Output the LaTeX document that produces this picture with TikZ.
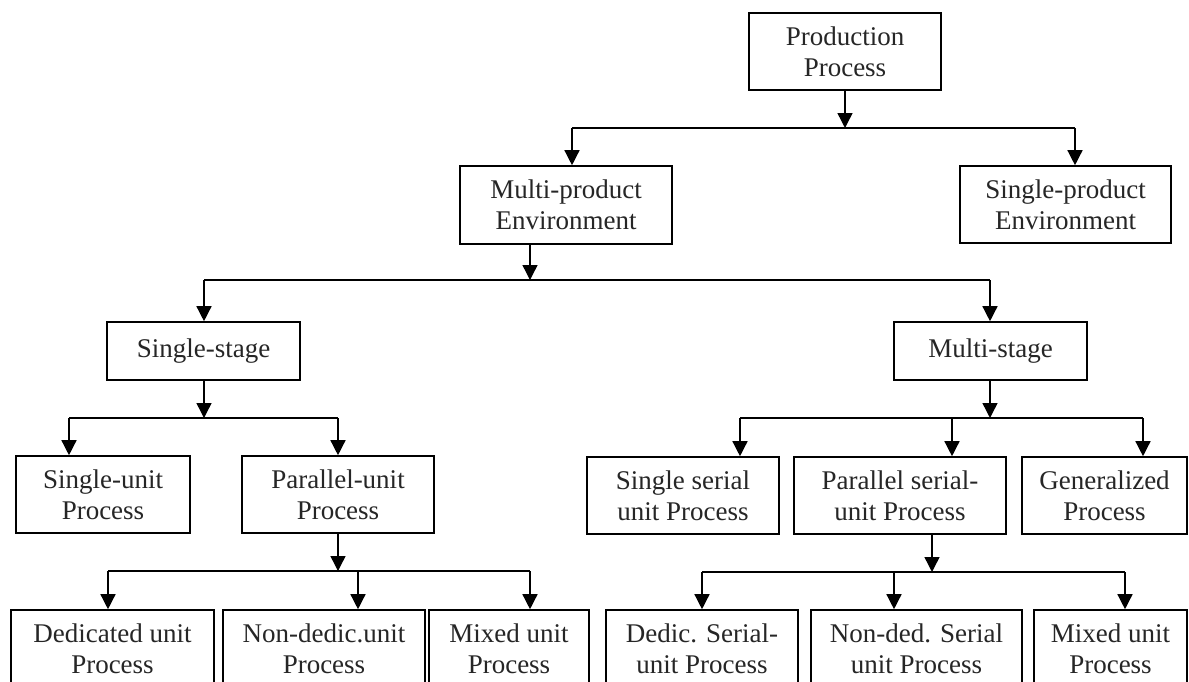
\documentclass[tikz,border=0pt]{standalone}
\usepackage{fontspec}
\setmainfont{Liberation Serif}
\usetikzlibrary{arrows.meta}
\begin{document}
\begin{tikzpicture}[x=1pt,y=-1pt,
  box/.style={draw, line width=1.6pt, inner sep=0pt, align=center,
    font=\fontsize{27}{31}\selectfont, text=black!85},
  link/.style={line width=1.4pt},
  arr/.style={link, -{Triangle[length=15pt,width=15pt]}}]
\clip (0,0) rectangle (1189,681);
\fill[white] (0,0) rectangle (1189,681);

% level 0 and 1
\node[box, minimum width=192pt, minimum height=77pt] (prod)   at (845,51.5)   {Production\\Process};
\node[box, minimum width=212pt, minimum height=78pt] (multi)  at (566,205)    {Multi-product\\Environment};
\node[box, minimum width=211pt, minimum height=77pt] (single) at (1065.5,204.5) {Single-product\\Environment};

% level 2
\node[box, minimum width=193pt, minimum height=58pt] (sstage) at (203.5,351) {Single-stage};
\node[box, minimum width=193pt, minimum height=58pt] (mstage) at (990.5,351) {Multi-stage};

% level 3
\node[box, minimum width=174pt, minimum height=77pt] (sunit) at (103,494.5)  {Single-unit\\Process};
\node[box, minimum width=192pt, minimum height=77pt] (punit) at (338,494.5)  {Parallel-unit\\Process};
\node[box, minimum width=192pt, minimum height=77pt] (sser)  at (683,495.5)  {Single serial\\unit Process};
\node[box, minimum width=212pt, minimum height=77pt] (pser)  at (900,495.5)  {Parallel serial-\\unit Process};
\node[box, minimum width=165pt, minimum height=77pt] (gen)   at (1104.5,495.5) {Generalized\\Process};

% level 4
\node[box, minimum width=203pt, minimum height=78pt] (ded)  at (112.5,649) {Dedicated unit\\Process};
\node[box, minimum width=202pt, minimum height=78pt] (ndd)  at (324,649)   {Non-dedic.unit\\Process};
\node[box, minimum width=160pt, minimum height=78pt] (mixa) at (509,649)   {Mixed unit\\Process};
\node[box, minimum width=192pt, minimum height=78pt] (dser) at (702,649)   {Dedic. Serial-\\unit Process};
\node[box, minimum width=211pt, minimum height=78pt] (nser) at (916.5,649) {Non-ded. Serial\\unit Process};
\node[box, minimum width=153pt, minimum height=78pt] (mixb) at (1110.5,649) {Mixed unit\\Process};

% branch points
\coordinate (b1l) at (572,128);  \coordinate (b1r) at (1075,128);
\coordinate (b2l) at (204,280);  \coordinate (b2m) at (530,280);  \coordinate (b2r) at (990,280);
\coordinate (b3l) at (69,418);   \coordinate (b3m) at (204,418);  \coordinate (b3r) at (338,418);
\coordinate (b3p) at (740,418);  \coordinate (b3q) at (952,418);  \coordinate (b3c) at (990,418);
\coordinate (b3s) at (1143,418);
\coordinate (b4l) at (108,571);  \coordinate (b4m) at (358,571);  \coordinate (b4r) at (530,571);
\coordinate (b4p) at (702,572);  \coordinate (b4q) at (894,572);  \coordinate (b4c) at (932,572);
\coordinate (b4s) at (1125,572);

% Production Process
\draw[arr] (prod.south) -- (prod.south |- b1l);
\draw[link] (b1l) -- (b1r);
\draw[arr] (b1l) -- (b1l |- multi.north);
\draw[arr] (b1r) -- (b1r |- single.north);

% Multi-product Environment
\draw[arr] (b2m |- multi.south) -- (b2m);
\draw[link] (b2l) -- (b2r);
\draw[arr] (b2l) -- (b2l |- sstage.north);
\draw[arr] (b2r) -- (b2r |- mstage.north);

% Single-stage
\draw[arr] (b3m |- sstage.south) -- (b3m);
\draw[link] (b3l) -- (b3r);
\draw[arr] (b3l) -- (b3l |- sunit.north);
\draw[arr] (b3r) -- (b3r |- punit.north);

% Multi-stage
\draw[arr] (b3c |- mstage.south) -- (b3c);
\draw[link] (b3p) -- (b3s);
\draw[arr] (b3p) -- (b3p |- sser.north);
\draw[arr] (b3q) -- (b3q |- pser.north);
\draw[arr] (b3s) -- (b3s |- gen.north);

% Parallel-unit Process
\draw[arr] (punit.south) -- (punit.south |- b4l);
\draw[link] (b4l) -- (b4r);
\draw[arr] (b4l) -- (b4l |- ded.north);
\draw[arr] (b4m) -- (b4m |- ndd.north);
\draw[arr] (b4r) -- (b4r |- mixa.north);

% Parallel serial-unit Process
\draw[arr] (b4c |- pser.south) -- (b4c);
\draw[link] (b4p) -- (b4s);
\draw[arr] (b4p) -- (b4p |- dser.north);
\draw[arr] (b4q) -- (b4q |- nser.north);
\draw[arr] (b4s) -- (b4s |- mixb.north);
\end{tikzpicture}
\end{document}
